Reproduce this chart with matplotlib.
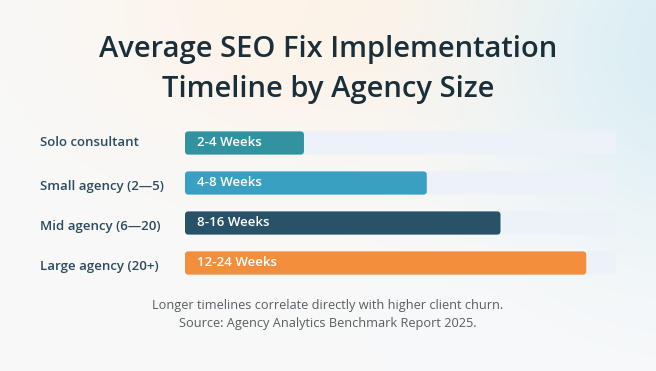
import numpy as np
import matplotlib
matplotlib.use("Agg")
import matplotlib.pyplot as plt
from matplotlib.patches import FancyBboxPatch
from matplotlib import transforms

plt.rcParams['font.family'] = ['Open Sans', 'DejaVu Sans']

# data
categories = ["Solo consultant", "Small agency (2\u20145)", "Mid agency (6\u201420)", "Large agency (20+)"]
bar_labels = ["2-4 Weeks", "4-8 Weeks", "8-16 Weeks", "12-24 Weeks"]
values = [27.6, 56.1, 73.2, 93.1]   # share of track (%)
colors = ["#3193A0", "#3AA0C1", "#275268", "#F28E3C"]
track_max = 100

W, H = 656, 371
fig = plt.figure(figsize=(W / 100, H / 100), dpi=100)

# soft gradient background
bg = fig.add_axes([0, 0, 1, 1])
yy, xx = np.mgrid[0:H, 0:W]
base = np.array([0.973, 0.976, 0.980])
peach = np.array([0.995, 0.955, 0.910])
blue = np.array([0.855, 0.933, 0.957])
wp = np.exp(-(((xx - 320) / 250.0) ** 2 + ((yy - 10) / 160.0) ** 2))[..., None]
wb = np.exp(-(((xx - 700) / 200.0) ** 2 + ((yy - 50) / 190.0) ** 2))[..., None]
img = base * (1 - wp) + peach * wp
img = img * (1 - wb) + blue * wb
bg.imshow(np.clip(img, 0, 1), aspect='auto', extent=[0, 1, 0, 1], origin='upper')
bg.set_axis_off()

# title
fig.text(0.5, 1 - 50 / H, "Average SEO Fix Implementation", ha='center', va='center',
         fontsize=21, fontweight='semibold', color="#1B2F3B")
fig.text(0.5, 1 - 89 / H, "Timeline by Agency Size", ha='center', va='center',
         fontsize=21, fontweight='semibold', color="#1B2F3B")

# bars
ax = fig.add_axes([185 / W, 1 - 283 / H, 431 / W, 160 / H])
ax.set_xlim(0, track_max)
ax.set_ylim(len(categories) - 0.5, -0.5)
ax.set_axis_off()

bh = 0.58
# rounding in data units: x per px vs y per px
xpp = track_max / 431.0
ypp = len(categories) / 160.0
r = 3.5 * xpp
aspect = ypp / xpp

lab_tr = transforms.blended_transform_factory(fig.transFigure, ax.transData)
for i, (cat, lab, v, c) in enumerate(zip(categories, bar_labels, values, colors)):
    ax.add_patch(FancyBboxPatch((0, i - bh / 2), track_max, bh,
                                boxstyle=f"round,pad=0,rounding_size={r}",
                                mutation_aspect=aspect, fc="#EDF1F8", ec='none'))
    ax.add_patch(FancyBboxPatch((0, i - bh / 2), v, bh,
                                boxstyle=f"round,pad=0,rounding_size={r}",
                                mutation_aspect=aspect, fc=c, ec='none'))
    ax.text(12 * xpp, i, lab, ha='left', va='center', color='white',
            fontsize=9.5, fontweight='semibold')
    ax.text(40 / W, i + (0.08 if i > 0 else 0), cat, transform=lab_tr, ha='left', va='center',
            color="#2B4A5D", fontsize=9.5, fontweight='semibold')

# footnote
fig.text(0.5, 1 - 306 / H, "Longer timelines correlate directly with higher client churn.",
         ha='center', va='center', fontsize=9.2, color="#585D63")
fig.text(0.5, 1 - 324 / H, "Source: Agency Analytics Benchmark Report 2025.",
         ha='center', va='center', fontsize=9.2, color="#585D63")

fig.savefig("out.png", dpi=100)
